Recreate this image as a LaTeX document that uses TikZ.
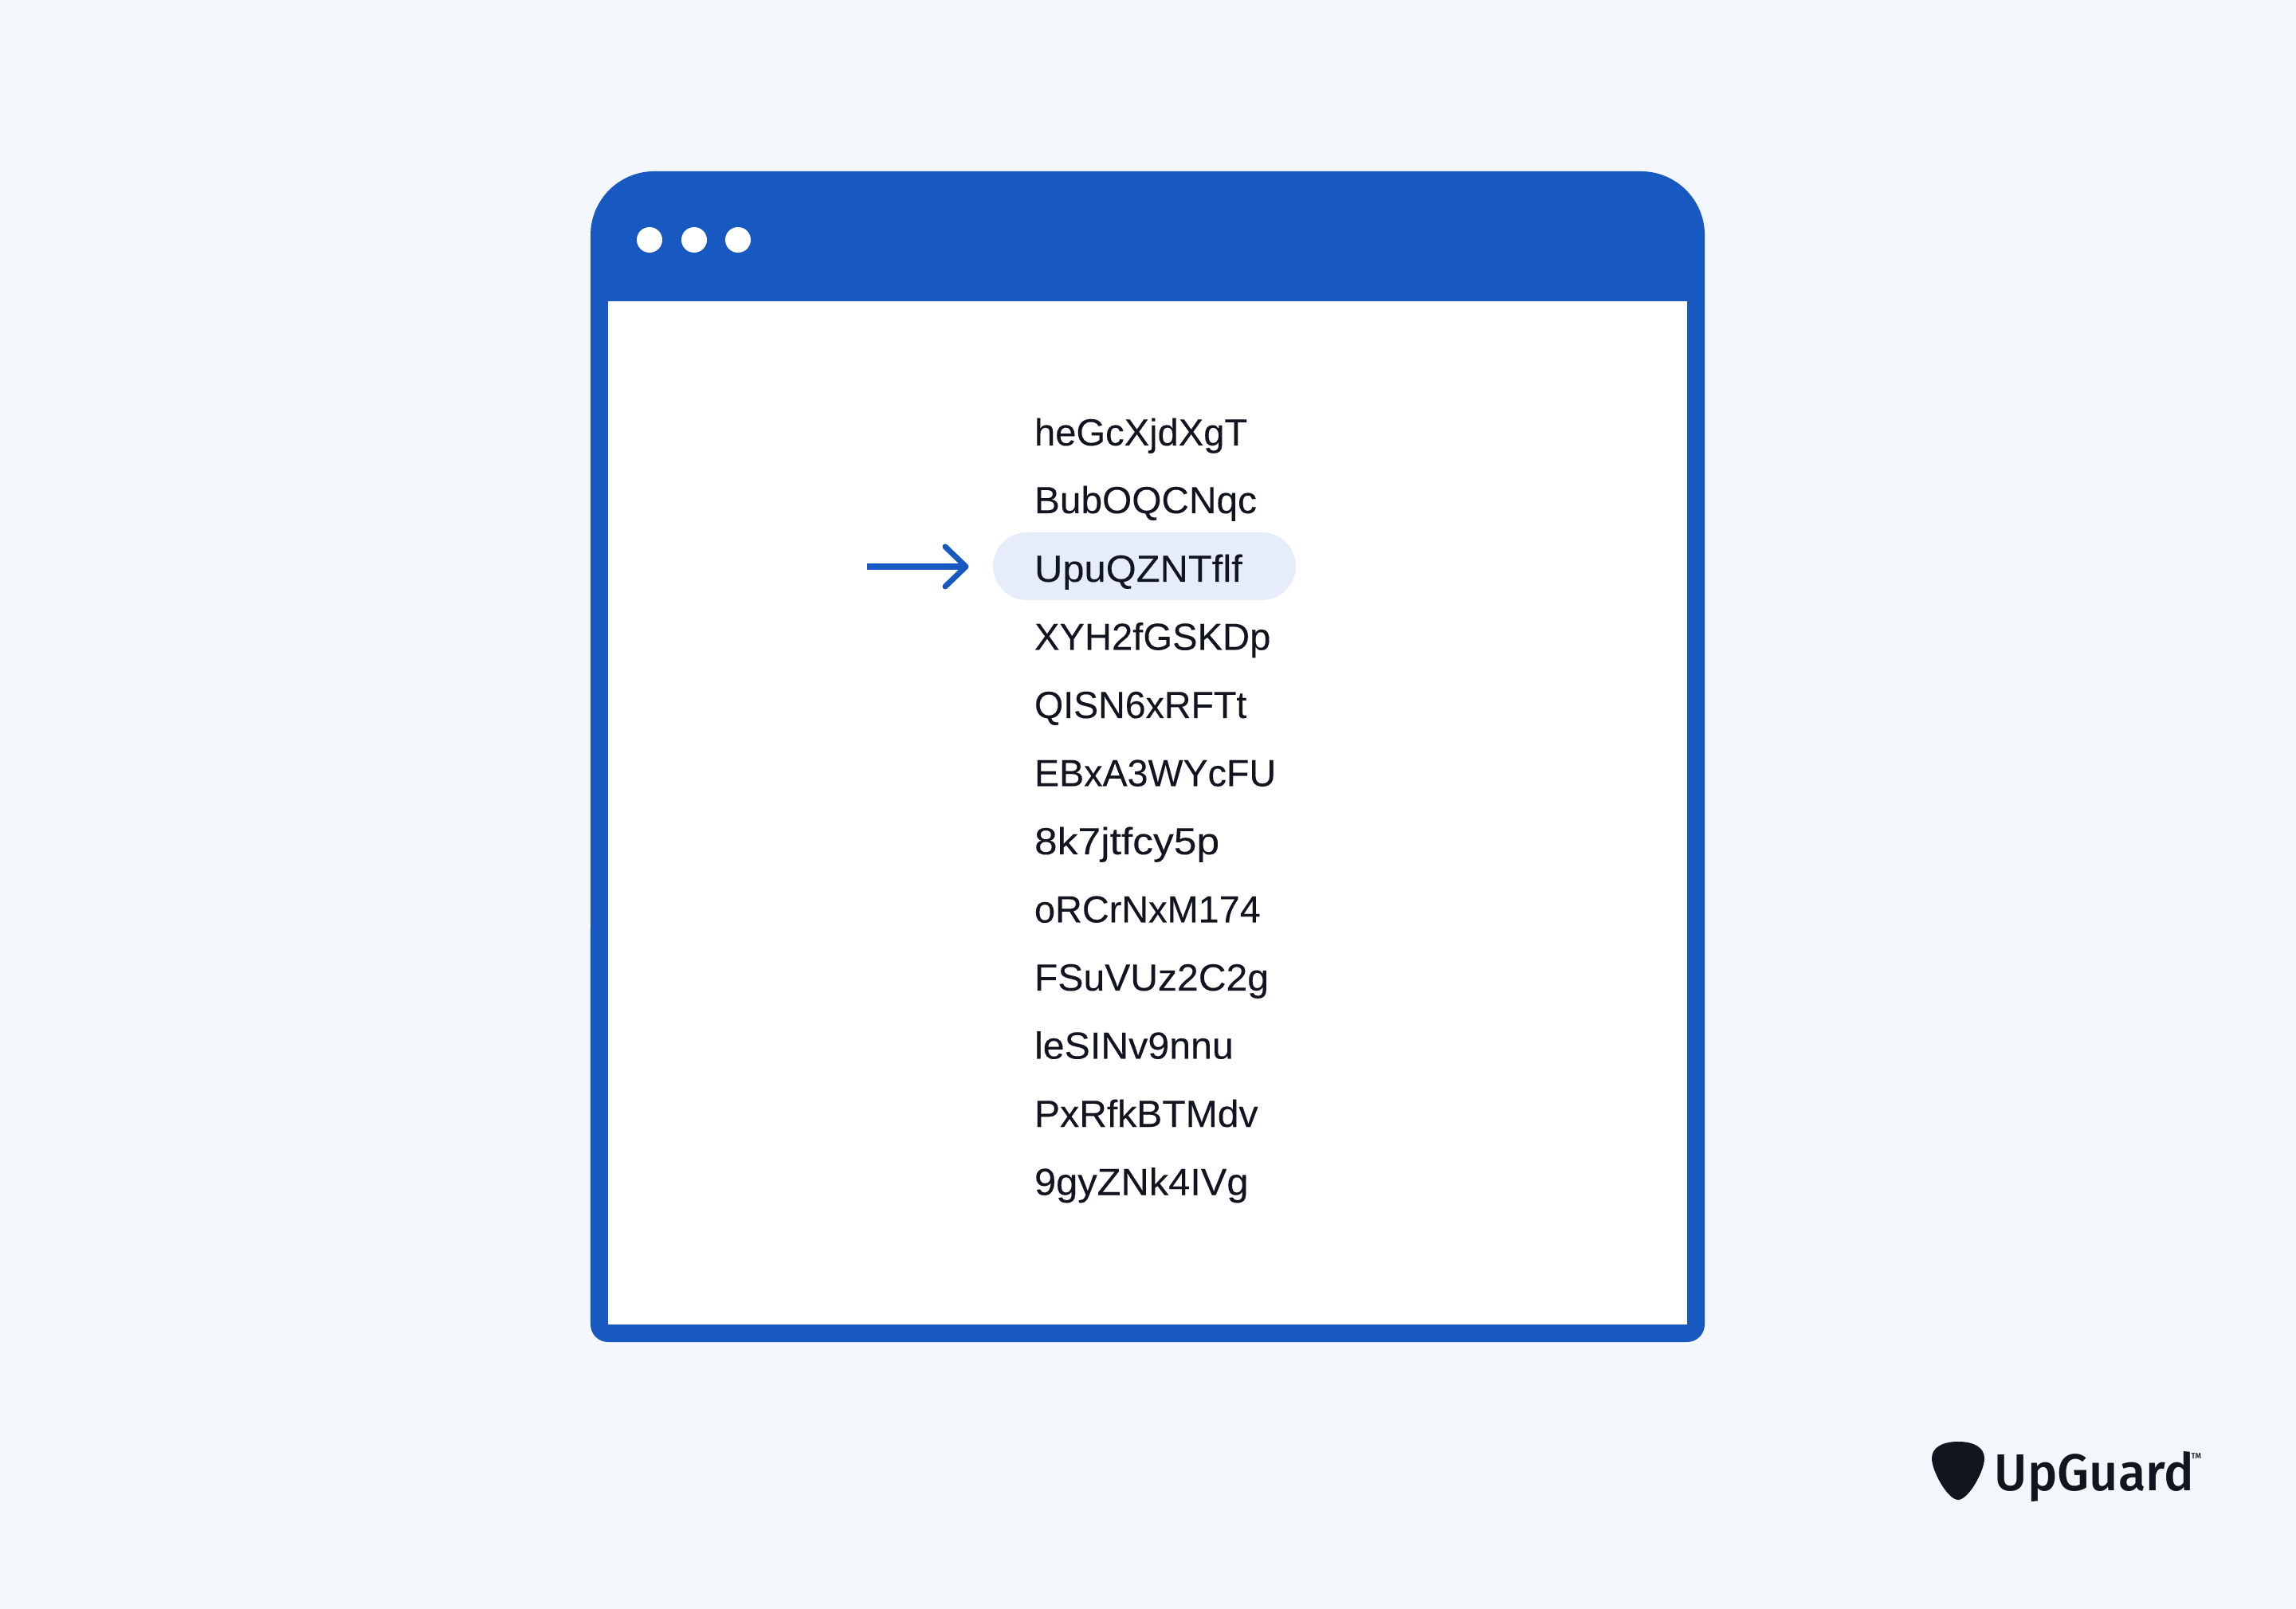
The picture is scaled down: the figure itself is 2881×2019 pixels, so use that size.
\documentclass[tikz,border=0pt]{standalone}
\usepackage{fontspec}
\setmainfont[FakeBold=0.12]{Liberation Sans}
\newfontfamily\logofont[FakeStretch=0.9675]{Fira Sans Medium}
\definecolor{pagebg}{HTML}{F3F6FB}
\definecolor{winblue}{HTML}{1858C1}
\definecolor{pillbg}{HTML}{E6ECF9}
\definecolor{inkdark}{HTML}{12151F}
\newcommand{\tw}[2]{\scalebox{#1}[1]{#2}}
\tikzset{
  px/.style={x=0.01cm,y=-0.01cm},
  entry/.style={anchor=base west,inner sep=0pt,outer sep=0pt,text=inkdark,font=\fontsize{13.5}{16}\selectfont},
  winbtn/.style={circle,fill=white,minimum size=0.32cm,inner sep=0pt},
  arrowline/.style={draw=winblue,line width=0.07cm,line cap=round,line join=round},
}
\begin{document}
\begin{tikzpicture}[px]
\fill[pagebg] (0,0) rectangle (2881,2019);
\useasboundingbox (0,0) rectangle (2881,2019);
% window
\fill[winblue] (741,295) arc[start angle=180,end angle=90,radius=0.8cm] -- (2059,215) arc[start angle=90,end angle=0,radius=0.8cm] -- (2139,1662) arc[start angle=0,end angle=-90,radius=0.22cm] -- (763,1684) arc[start angle=-90,end angle=-180,radius=0.22cm] -- cycle;
\fill[white] (763,378) rectangle (2117,1662);
\node[winbtn] (d1) at (815,301) {};
\node[winbtn] (d2) at (871,301) {};
\node[winbtn] (d3) at (926,301) {};
% highlight
\fill[pillbg,rounded corners=0.425cm] (1246,668) rectangle (1626,753);
% arrow
\coordinate (astart) at (1088,711);
\coordinate (atip) at (1212,711);
\coordinate (bup) at (1186,686);
\coordinate (bdown) at (1186,736);
\draw[draw=winblue,line width=0.08cm] (astart) -- (atip);
\draw[arrowline] (bup) -- (atip) -- (bdown);
% list
\node[entry] (t1) at (1298,559) {\tw{0.993}{heGcXjdXgT}};
\node[entry] (t2) at (1298,644) {\tw{1.007}{BubOQCNqc}};
\node[entry] (t3) at (1298,730) {\tw{1.03}{UpuQZNTf\kern0ptlf}};
\node[entry] (t4) at (1298,815.5) {\tw{0.994}{XYH2fGSKDp}};
\node[entry] (t5) at (1298,901) {\tw{0.98}{QISN6xRFTt}};
\node[entry] (t6) at (1298,986.5) {\tw{0.982}{EBxA3WYcFU}};
\node[entry] (t7) at (1298,1072) {\tw{1.086}{8k7jtfcy5p}};
\node[entry] (t8) at (1298,1157.5) {\tw{0.987}{oRCrNxM174}};
\node[entry] (t9) at (1298,1243) {\tw{1.013}{FSuVUz2C2g}};
\node[entry] (t10) at (1298,1328.5) {\tw{1.018}{leSINv9nnu}};
\node[entry] (t11) at (1298,1414) {\tw{1.013}{PxRfkBTMdv}};
\node[entry] (t12) at (1298,1499.5) {\tw{1.028}{9gyZNk4IVg}};
% logo
\fill[inkdark] (2457,1809) .. controls (2478,1809) and (2490,1817) .. (2490,1830) .. controls (2490,1846) and (2470,1882) .. (2457,1882) .. controls (2444,1882) and (2424,1846) .. (2424,1830) .. controls (2424,1817) and (2436,1809) .. (2457,1809) -- cycle;
\node[anchor=base west,inner sep=0pt,text=inkdark,font=\logofont\fontsize{18.5}{20}\selectfont] (logo) at (2502,1870) {UpGuard};
\node[anchor=base west,inner sep=0pt,text=inkdark,font=\logofont\fontsize{2.8}{3}\selectfont] (tm) at (2749,1830) {TM};
\end{tikzpicture}
\end{document}
